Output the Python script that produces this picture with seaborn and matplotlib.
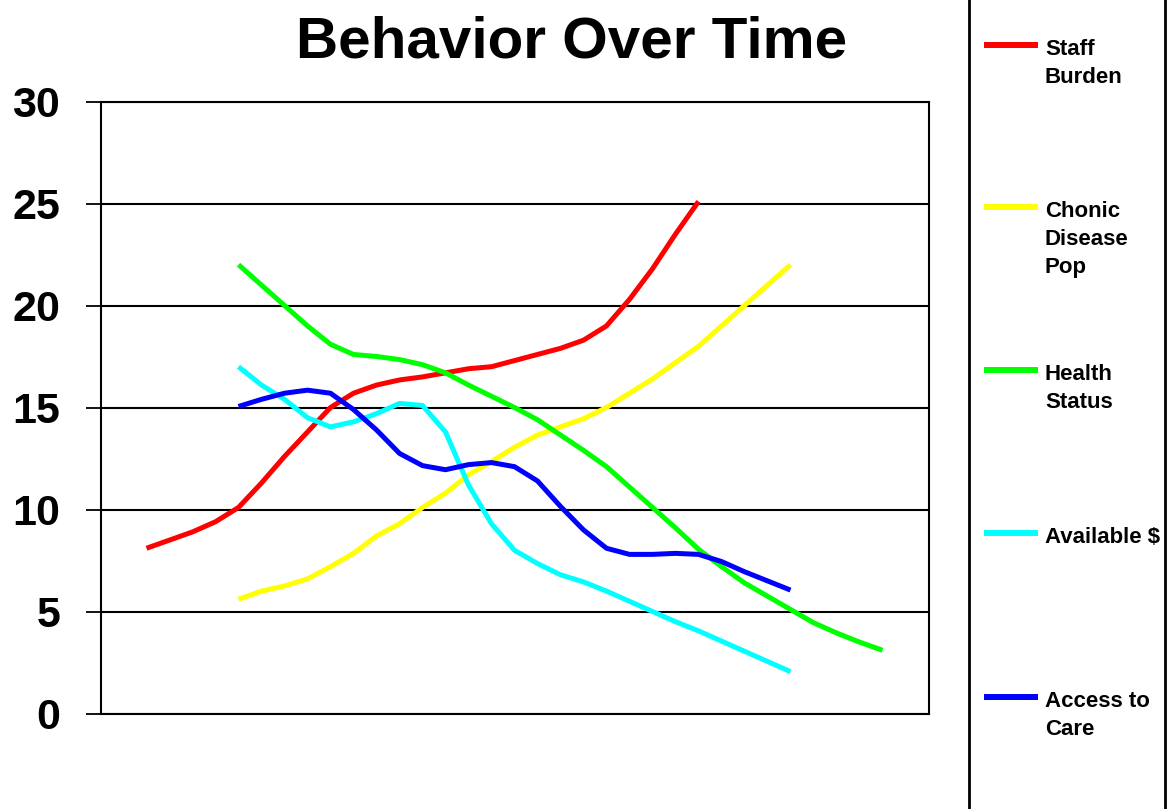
import pandas as pd
import matplotlib.pyplot as plt
import seaborn as sns
from matplotlib.lines import Line2D
from matplotlib.patches import Rectangle

# time steps (half-step readings)
time = [1, 1.5, 2, 2.5, 3, 3.5, 4, 4.5, 5, 5.5, 6, 6.5, 7, 7.5, 8, 8.5,
        9, 9.5, 10, 10.5, 11, 11.5, 12, 12.5, 13, 13.5, 14, 14.5, 15,
        15.5, 16, 16.5, 17]

staff_burden = [8.1, 8.5, 8.9, 9.4, 10.1, 11.3, 12.6, 13.8, 15.0, 15.7,
                16.1, 16.35, 16.5, 16.7, 16.9, 17.0, 17.3, 17.6, 17.9,
                18.3, 19.0, 20.3, 21.8, 23.5, 25.1]
chronic_disease = [5.6, 6.0, 6.25, 6.6, 7.2, 7.85, 8.7, 9.3, 10.1, 10.8,
                   11.7, 12.35, 13.05, 13.65, 14.05, 14.45, 15.0, 15.7,
                   16.4, 17.2, 18.0, 19.0, 20.0, 21.0, 22.0]
health_status = [22.0, 21.0, 20.0, 19.0, 18.1, 17.6, 17.5, 17.35, 17.1,
                 16.7, 16.1, 15.55, 15.0, 14.4, 13.65, 12.9, 12.1, 11.1,
                 10.1, 9.1, 8.05, 7.2, 6.4, 5.75, 5.1, 4.45, 3.95, 3.5, 3.1]
available = [17.0, 16.1, 15.4, 14.5, 14.05, 14.3, 14.7, 15.2, 15.1, 13.8,
             11.2, 9.3, 8.0, 7.35, 6.8, 6.45, 6.0, 5.5, 5.0, 4.5, 4.05,
             3.55, 3.05, 2.55, 2.05]
access_care = [15.05, 15.4, 15.7, 15.85, 15.7, 14.9, 13.9, 12.75, 12.15,
               11.95, 12.2, 12.3, 12.1, 11.4, 10.15, 9.0, 8.1, 7.8, 7.8,
               7.85, 7.8, 7.45, 6.95, 6.5, 6.05]

names = ["Staff\nBurden", "Chonic\nDisease\nPop", "Health\nStatus",
         "Available $", "Access to\nCare"]
series = [staff_burden, chronic_disease, health_status, available, access_care]
start_time = [1, 3, 3, 3, 3]
colors = ["#FF0000", "#FFFF00", "#00FF00", "#00FFFF", "#0000FF"]

rows = []
for name, vals, t0 in zip(names, series, start_time):
    i0 = time.index(t0)
    for t, v in zip(time[i0:i0 + len(vals)], vals):
        rows.append({"time": t, "value": v, "series": name})
df = pd.DataFrame(rows)

sns.set_style("white")
plt.rcParams["font.family"] = ["Liberation Sans", "DejaVu Sans"]
plt.rcParams["font.weight"] = "bold"
plt.rcParams["text.color"] = "black"
plt.rcParams["ytick.color"] = "black"
plt.rcParams["ytick.labelcolor"] = "black"

W, H = 1167, 809
fig = plt.figure(figsize=(W / 100, H / 100), dpi=100)
ax = fig.add_axes([100.5 / W, (H - 713.5) / H, 828 / W, 612 / H])

sns.lineplot(data=df, x="time", y="value", hue="series", hue_order=names,
             palette=dict(zip(names, colors)), estimator=None, sort=False,
             legend=False, linewidth=3.6, solid_capstyle="butt", ax=ax)

ax.set_xlim(0, 18)
ax.set_ylim(0, 30)
ax.set_xticks([])
ax.set_yticks(range(0, 31, 5))
ax.set_yticklabels([str(v) for v in range(0, 31, 5)], fontsize=31,
                   fontweight="bold", color="black")
ax.tick_params(axis="y", direction="out", length=11, width=1.3, pad=18,
               color="black", left=True)
ax.set_xlabel("")
ax.set_ylabel("")
ax.yaxis.grid(True, color="black", linewidth=1.5)
ax.set_axisbelow(True)
for sp in ax.spines.values():
    sp.set_color("black")
    sp.set_linewidth(1.5)

fig.text(572 / W, 1 - 37 / H, "Behavior Over Time", ha="center",
         va="center_baseline", fontsize=42, fontweight="bold", color="black")

# legend panel, drawn by hand so that labels line up like the original
fig.add_artist(Rectangle((969 / W, -0.05), (1165 - 969) / W, 1.1,
                         transform=fig.transFigure, fill=False,
                         edgecolor="black", linewidth=2))
legend_y = [45, 207, 370, 533, 697]
for name, col, ly in zip(names, colors, legend_y):
    fig.add_artist(Line2D([984 / W, 1038 / W], [1 - ly / H, 1 - ly / H],
                          transform=fig.transFigure, color=col,
                          linewidth=4.3, solid_capstyle="butt"))
    for j, line in enumerate(name.split("\n")):
        fig.text(1045 / W, 1 - (ly + 10 + 28 * j) / H, line, ha="left",
                 va="baseline", fontsize=16, fontweight="bold",
                 color="black")

fig.savefig("out.png", dpi=100)
